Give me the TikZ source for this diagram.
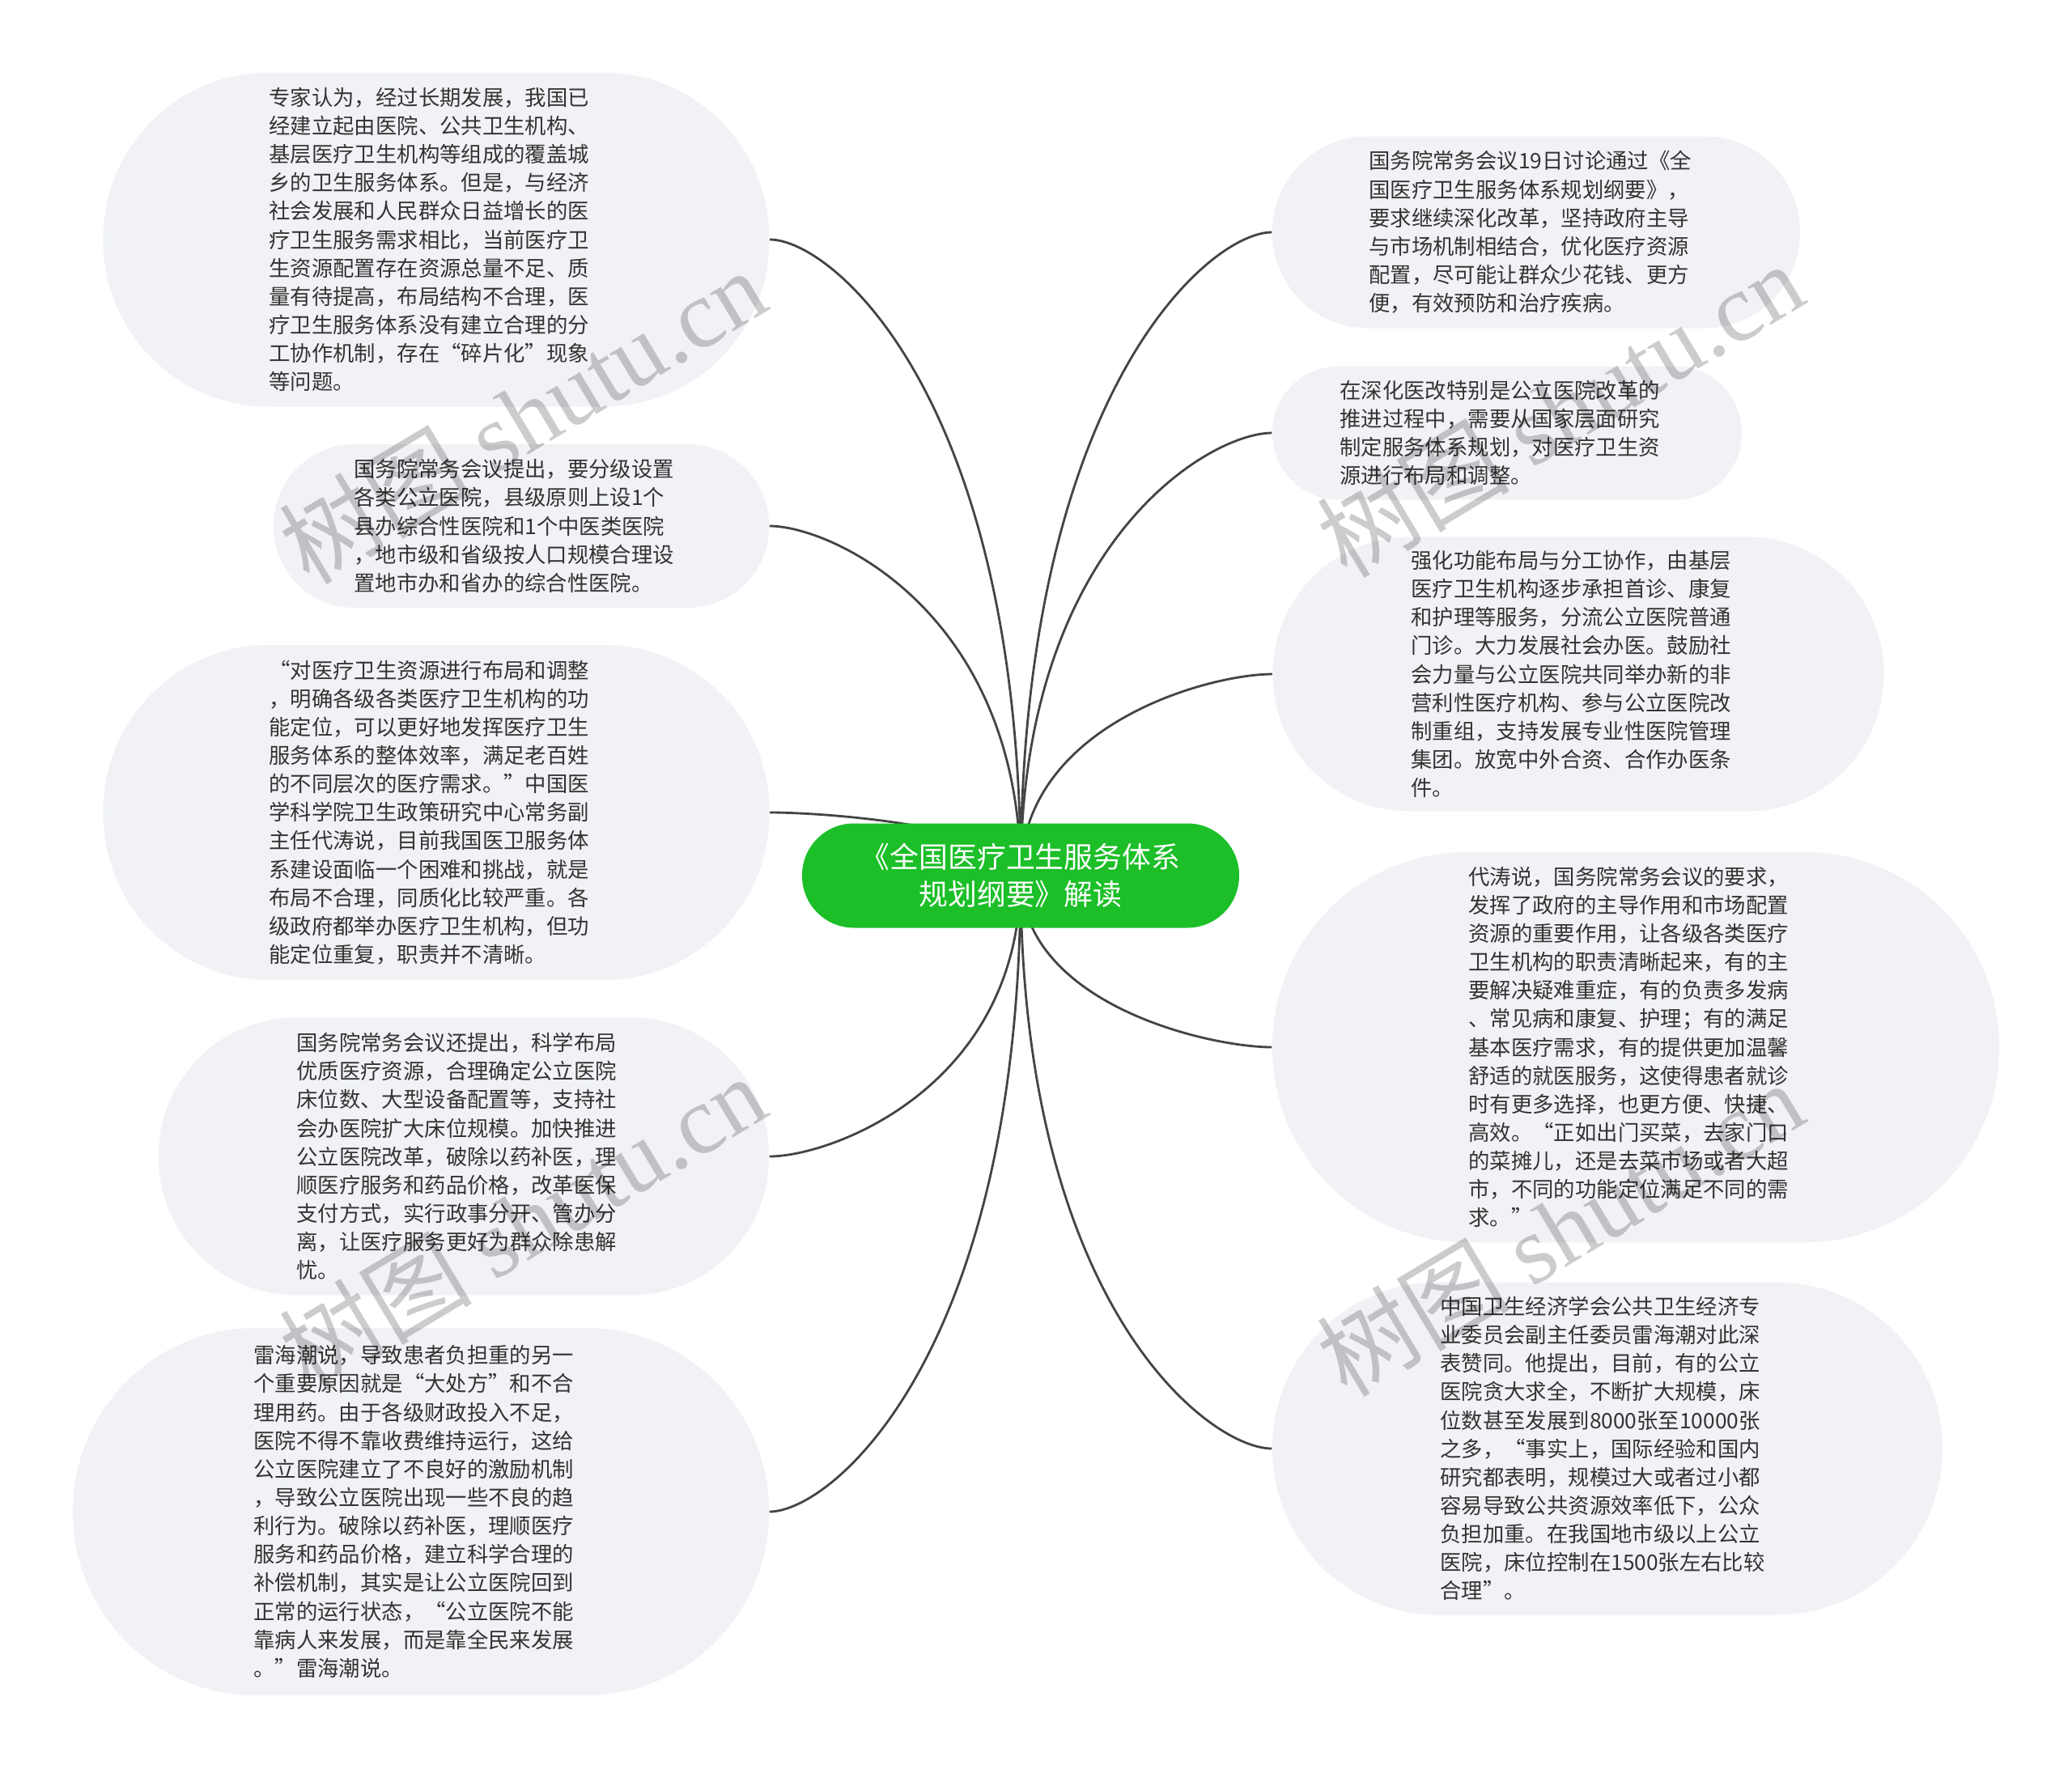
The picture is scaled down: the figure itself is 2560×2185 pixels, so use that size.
\documentclass[tikz,border=0pt]{standalone}
\usepackage{fontspec}
\setmainfont{Noto Sans CJK SC}
\newfontfamily\wmserif{Liberation Serif}
\newfontfamily\wmcjk{Noto Sans CJK SC}
\usetikzlibrary{calc,backgrounds}
\definecolor{bubfill}{HTML}{F0F2F5}
\definecolor{rootgreen}{HTML}{1CBF28}
\definecolor{txtc}{HTML}{333333}
\definecolor{linec}{HTML}{444444}
\newcommand\zhlq{\makebox[1em][r]{“}}
\newcommand\zhrq{\makebox[1em][l]{”}}
\newcommand\linkto[2]{\draw[conn] (#1) .. controls ($(#1)!0.75!(#1|-#2)$) and ($(#2)!0.25!(#1|-#2)$) .. (#2);}
\tikzset{
  bubble/.style={fill=bubfill, draw=none, text=txtc, align=left, inner sep=0pt,
    text width=41.3mm, font=\fontsize{7.5}{10}\selectfont},
  rootbox/.style={fill=rootgreen, draw=none, text=white, align=center, inner sep=0pt,
    font=\fontsize{10.2}{13}\selectfont, minimum width=54mm, minimum height=12.9mm,
    rounded corners=6.4mm},
  conn/.style={draw=linec, line width=0.8pt},
  wm/.style={text=black, text opacity=0.2, inner sep=0pt, rotate=31,
    font=\fontsize{34}{34}\selectfont}
}
\begin{document}
\begin{tikzpicture}[x=0.1mm,y=-0.1mm]
\useasboundingbox (0,0) rectangle (2560,2185);

\node[rootbox] (root) at (1261,1082) {《全国医疗卫生服务体系\\规划纲要》解读};

\node[bubble, minimum width=82.3mm, minimum height=41.3mm, rounded corners=20.5mm] (L1) at (539,296) {%
专家认为，经过长期发展，我国已\\
经建立起由医院、公共卫生机构、\\
基层医疗卫生机构等组成的覆盖城\\
乡的卫生服务体系。但是，与经济\\
社会发展和人民群众日益增长的医\\
疗卫生服务需求相比，当前医疗卫\\
生资源配置存在资源总量不足、质\\
量有待提高，布局结构不合理，医\\
疗卫生服务体系没有建立合理的分\\
工协作机制，存在\zhlq 碎片化\zhrq 现象\\
等问题。};

\node[bubble, minimum width=61.2mm, minimum height=20.2mm, rounded corners=10mm] (L2) at (644,650) {%
国务院常务会议提出，要分级设置\\
各类公立医院，县级原则上设1个\\
县办综合性医院和1个中医类医院\\
，地市级和省级按人口规模合理设\\
置地市办和省办的综合性医院。};

\node[bubble, minimum width=82.3mm, minimum height=41.4mm, rounded corners=20.5mm] (L3) at (539,1004) {%
\zhlq 对医疗卫生资源进行布局和调整\\
，明确各级各类医疗卫生机构的功\\
能定位，可以更好地发挥医疗卫生\\
服务体系的整体效率，满足老百姓\\
的不同层次的医疗需求。\zhrq 中国医\\
学科学院卫生政策研究中心常务副\\
主任代涛说，目前我国医卫服务体\\
系建设面临一个困难和挑战，就是\\
布局不合理，同质化比较严重。各\\
级政府都举办医疗卫生机构，但功\\
能定位重复，职责并不清晰。};

\node[bubble, minimum width=75.4mm, minimum height=34.3mm, rounded corners=17mm] (L4) at (573,1429) {%
国务院常务会议还提出，科学布局\\
优质医疗资源，合理确定公立医院\\
床位数、大型设备配置等，支持社\\
会办医院扩大床位规模。加快推进\\
公立医院改革，破除以药补医，理\\
顺医疗服务和药品价格，改革医保\\
支付方式，实行政事分开、管办分\\
离，让医疗服务更好为群众除患解\\
忧。};

\node[bubble, minimum width=86mm, minimum height=45.4mm, rounded corners=22.6mm] (L5) at (520,1868) {%
雷海潮说，导致患者负担重的另一\\
个重要原因就是\zhlq 大处方\zhrq 和不合\\
理用药。由于各级财政投入不足，\\
医院不得不靠收费维持运行，这给\\
公立医院建立了不良好的激励机制\\
，导致公立医院出现一些不良的趋\\
利行为。破除以药补医，理顺医疗\\
服务和药品价格，建立科学合理的\\
补偿机制，其实是让公立医院回到\\
正常的运行状态，\zhlq 公立医院不能\\
靠病人来发展，而是靠全民来发展\\
。\zhrq 雷海潮说。};

\node[bubble, minimum width=65.2mm, minimum height=23.7mm, rounded corners=11.8mm] (R1) at (1898,287) {%
国务院常务会议19日讨论通过《全\\
国医疗卫生服务体系规划纲要》，\\
要求继续深化改革，坚持政府主导\\
与市场机制相结合，优化医疗资源\\
配置，尽可能让群众少花钱、更方\\
便，有效预防和治疗疾病。};

\node[bubble, minimum width=58mm, minimum height=16.5mm, rounded corners=8.2mm] (R2) at (1862,535) {%
在深化医改特别是公立医院改革的\\
推进过程中，需要从国家层面研究\\
制定服务体系规划，对医疗卫生资\\
源进行布局和调整。};

\node[bubble, minimum width=75.5mm, minimum height=33.9mm, rounded corners=16.9mm] (R3) at (1950,833) {%
强化功能布局与分工协作，由基层\\
医疗卫生机构逐步承担首诊、康复\\
和护理等服务，分流公立医院普通\\
门诊。大力发展社会办医。鼓励社\\
会力量与公立医院共同举办新的非\\
营利性医疗机构、参与公立医院改\\
制重组，支持发展专业性医院管理\\
集团。放宽中外合资、合作办医条\\
件。};

\node[bubble, minimum width=89.8mm, minimum height=48.2mm, rounded corners=24mm] (R4) at (2021,1294) {%
代涛说，国务院常务会议的要求，\\
发挥了政府的主导作用和市场配置\\
资源的重要作用，让各级各类医疗\\
卫生机构的职责清晰起来，有的主\\
要解决疑难重症，有的负责多发病\\
、常见病和康复、护理；有的满足\\
基本医疗需求，有的提供更加温馨\\
舒适的就医服务，这使得患者就诊\\
时有更多选择，也更方便、快捷、\\
高效。\zhlq 正如出门买菜，去家门口\\
的菜摊儿，还是去菜市场或者大超\\
市，不同的功能定位满足不同的需\\
求。\zhrq};

\node[bubble, minimum width=82.8mm, minimum height=41.1mm, rounded corners=20.5mm] (R5) at (1986,1790) {%
中国卫生经济学会公共卫生经济专\\
业委员会副主任委员雷海潮对此深\\
表赞同。他提出，目前，有的公立\\
医院贪大求全，不断扩大规模，床\\
位数甚至发展到8000张至10000张\\
之多，\zhlq 事实上，国际经验和国内\\
研究都表明，规模过大或者过小都\\
容易导致公共资源效率低下，公众\\
负担加重。在我国地市级以上公立\\
医院，床位控制在1500张左右比较\\
合理\zhrq 。};

\begin{pgfonlayer}{background}
\fill[white] (0,0) rectangle (2560,2185);
\linkto{root.center}{L1.east}
\linkto{root.center}{L2.east}
\linkto{root.center}{L3.east}
\linkto{root.center}{L4.east}
\linkto{root.center}{L5.east}
\linkto{root.center}{R1.west}
\linkto{root.center}{R2.west}
\linkto{root.center}{R3.west}
\linkto{root.center}{R4.west}
\linkto{root.center}{R5.west}
\end{pgfonlayer}

\node[wm] (wm1) at (645,514) {{\wmcjk 树图} {\wmserif shutu.cn}};
\node[wm] (wm2) at (1927,506) {{\wmcjk 树图} {\wmserif shutu.cn}};
\node[wm] (wm3) at (645,1510) {{\wmcjk 树图} {\wmserif shutu.cn}};
\node[wm] (wm4) at (1927,1518) {{\wmcjk 树图} {\wmserif shutu.cn}};
\end{tikzpicture}
\end{document}
